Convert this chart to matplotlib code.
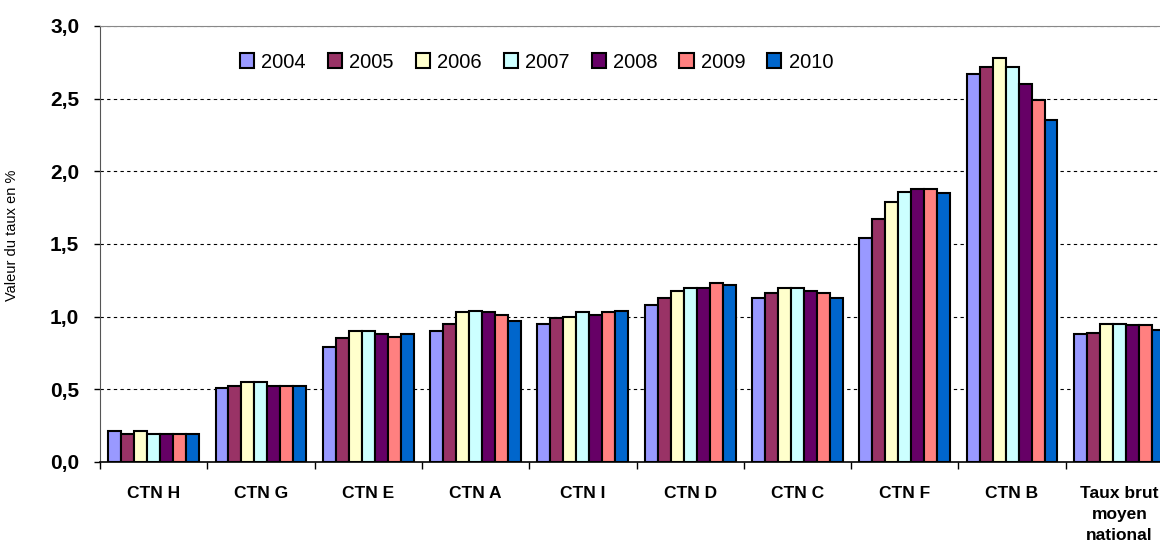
import numpy as np
import matplotlib
matplotlib.use("Agg")
import matplotlib.pyplot as plt
from matplotlib.ticker import FixedLocator, FuncFormatter

# Taux par CTN et par année
categories = ["CTN H", "CTN G", "CTN E", "CTN A", "CTN I", "CTN D",
              "CTN C", "CTN F", "CTN B", "Taux brut\nmoyen\nnational"]
years = ["2004", "2005", "2006", "2007", "2008", "2009", "2010"]

v2004 = [0.21, 0.51, 0.79, 0.90, 0.95, 1.08, 1.13, 1.54, 2.67, 0.88]
v2005 = [0.19, 0.52, 0.85, 0.95, 0.99, 1.13, 1.16, 1.67, 2.72, 0.89]
v2006 = [0.21, 0.55, 0.90, 1.03, 1.00, 1.18, 1.20, 1.79, 2.78, 0.95]
v2007 = [0.19, 0.55, 0.90, 1.04, 1.03, 1.20, 1.20, 1.86, 2.72, 0.95]
v2008 = [0.19, 0.52, 0.88, 1.03, 1.01, 1.20, 1.18, 1.88, 2.60, 0.94]
v2009 = [0.19, 0.52, 0.86, 1.01, 1.03, 1.23, 1.16, 1.88, 2.49, 0.94]
v2010 = [0.19, 0.52, 0.88, 0.97, 1.04, 1.22, 1.13, 1.85, 2.35, 0.91]

series = [v2004, v2005, v2006, v2007, v2008, v2009, v2010]
colors = ["#9999FF", "#993366", "#FFFFCC", "#CCFFFF", "#660066", "#FF8080", "#0066CC"]

plt.rcParams["font.family"] = ["Liberation Sans", "DejaVu Sans"]

fig = plt.figure(figsize=(11.6, 5.42), dpi=100)
ax = fig.add_axes([100 / 1160, 80 / 542, 1073 / 1160, 436 / 542])

x = np.arange(len(categories))
width = 0.121
for i, (vals, col, yr) in enumerate(zip(series, colors, years)):
    ax.bar(x + (i - 3) * width, vals, width, color=col, edgecolor="black",
           linewidth=1.5, label=yr, zorder=3)

ax.set_xlim(-0.5, len(categories) - 0.5)
ax.set_ylim(0, 3.0)

# y axis
ax.set_yticks(np.arange(0, 3.01, 0.5))
ax.yaxis.set_major_formatter(FuncFormatter(lambda v, p: f"{v:.1f}".replace(".", ",")))
ax.tick_params(axis="y", direction="out", length=4, width=1, pad=11,
               labelsize=15)
for lab in ax.get_yticklabels():
    lab.set_fontweight("bold")
ax.yaxis.grid(True, linestyle=(0, (3, 3)), color="black", linewidth=0.8, zorder=0)

# x axis: ticks at group boundaries, labels at centres
ax.xaxis.set_major_locator(FixedLocator(np.arange(-0.5, len(categories), 1.0)))
ax.xaxis.set_major_formatter(FuncFormatter(lambda v, p: ""))
ax.xaxis.set_minor_locator(FixedLocator(x))
ax.set_xticklabels(categories, minor=True, fontweight="bold", fontsize=12.5,
                   linespacing=1.5, va="top")
ax.tick_params(axis="x", which="major", direction="out", length=5, width=1)
ax.tick_params(axis="x", which="minor", length=0, pad=17)

ax.spines["right"].set_visible(False)
ax.spines["top"].set_color("#888888")
ax.spines["left"].set_color("#555555")
ax.spines["bottom"].set_color("black")
ax.spines["bottom"].set_linewidth(1.2)

ax.set_ylabel("Valeur du taux en %", fontsize=10.5)
ax.yaxis.set_label_coords(-81 / 1073, 0.52)

leg = ax.legend(loc="center left", bbox_to_anchor=(230 / 1160, 1 - 62 / 542),
                bbox_transform=fig.transFigure, ncol=7, frameon=False,
                fontsize=14.5, handlelength=0.7, handleheight=0.7,
                handletextpad=0.35, columnspacing=1.1, borderpad=0)

fig.savefig("out.png", dpi=100)
